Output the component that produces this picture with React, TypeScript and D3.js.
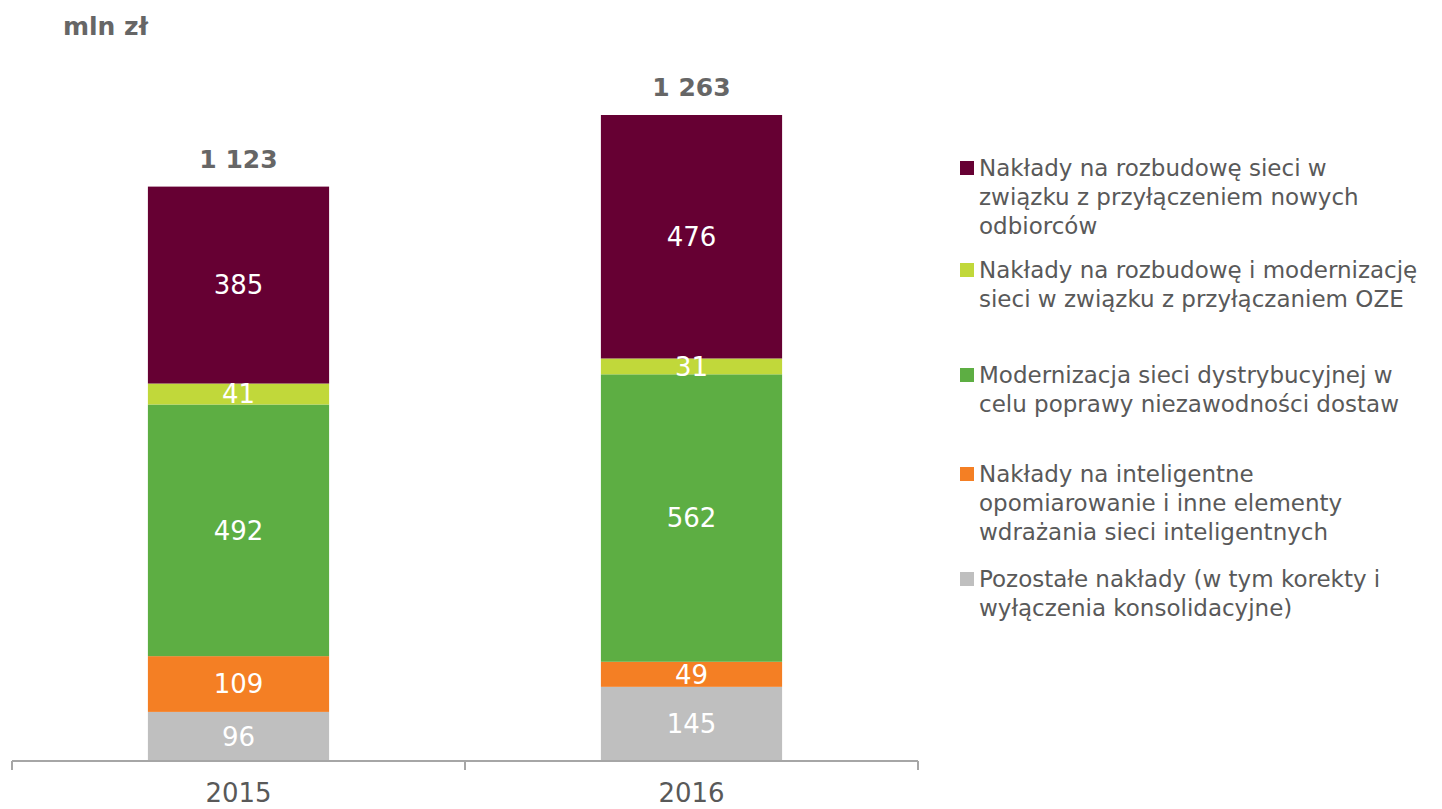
import { useRef, useEffect } from "react";
import * as d3 from "d3";

const years = ["2015", "2016"];
const seriesNames = [
  "Pozostałe nakłady (w tym korekty i wyłączenia konsolidacyjne)",
  "Nakłady na inteligentne opomiarowanie i inne elementy wdrażania sieci inteligentnych",
  "Modernizacja sieci dystrybucyjnej w celu poprawy niezawodności dostaw",
  "Nakłady na rozbudowę i modernizację sieci w związku z przyłączaniem OZE",
  "Nakłady na rozbudowę sieci w związku z przyłączeniem nowych odbiorców",
];
const values2015 = [96, 109, 492, 41, 385];
const values2016 = [145, 49, 562, 31, 476];
const totalLabels = ["1 123", "1 263"];
const colors = ["#bfbfbf", "#f47f24", "#5dae43", "#c1d83a", "#660033"];

// legend lines, top to bottom (wrapped as in the picture)
const legendLines = [
  ["Nakłady na rozbudowę sieci w", "związku z przyłączeniem nowych", "odbiorców"],
  ["Nakłady na rozbudowę i modernizację", "sieci w związku z przyłączaniem OZE"],
  ["Modernizacja sieci dystrybucyjnej w", "celu poprawy niezawodności dostaw"],
  ["Nakłady na inteligentne", "opomiarowanie i inne elementy", "wdrażania sieci inteligentnych"],
  ["Pozostałe nakłady (w tym korekty i", "wyłączenia konsolidacyjne)"],
];
const legendTops = [168, 270, 375, 474, 579];

const width = 1442;
const height = 809;
const baseY = 761;

const App = () => {
  const svgRef = useRef<SVGSVGElement>(null);

  useEffect(() => {
    const svg = d3.select(svgRef.current);
    svg.selectAll("*").remove();
    const font = "'DejaVu Sans', Verdana, sans-serif";

    const data = years.map((y, i) => {
      const vals = i === 0 ? values2015 : values2016;
      let acc = 0;
      return {
        year: y,
        total: totalLabels[i],
        segs: vals.map((v, k) => {
          const s = { v, k, y0: acc, y1: acc + v };
          acc += v;
          return s;
        }),
        sum: acc,
      };
    });

    const x = d3
      .scaleBand()
      .domain(years)
      .range([12, 918])
      .paddingInner(0.6)
      .paddingOuter(0.3);

    const y = d3
      .scaleLinear()
      .domain([0, d3.max(data, (d) => d.sum) as number])
      .range([baseY, 115]);

    const groups = svg
      .selectAll("g.bar")
      .data(data)
      .enter()
      .append("g")
      .attr("class", "bar");

    groups
      .selectAll("rect")
      .data((d) => d.segs.map((s) => ({ ...s, year: d.year })))
      .enter()
      .append("rect")
      .attr("x", (d) => x(d.year) as number)
      .attr("width", x.bandwidth())
      .attr("y", (d) => y(d.y1))
      .attr("height", (d) => y(d.y0) - y(d.y1))
      .attr("fill", (d) => colors[d.k]);

    groups
      .selectAll("text.val")
      .data((d) => d.segs.map((s) => ({ ...s, year: d.year })))
      .enter()
      .append("text")
      .attr("class", "val")
      .attr("x", (d) => (x(d.year) as number) + x.bandwidth() / 2)
      .attr("y", (d) => (y(d.y0) + y(d.y1)) / 2)
      .attr("dy", "0.36em")
      .attr("text-anchor", "middle")
      .attr("fill", "#ffffff")
      .style("font-family", font)
      .style("font-size", "26px")
      .text((d) => d.v);

    groups
      .append("text")
      .attr("x", (d) => (x(d.year) as number) + x.bandwidth() / 2)
      .attr("y", (d) => y(d.sum) - 28)
      .attr("dy", "0.36em")
      .attr("text-anchor", "middle")
      .attr("fill", "#666666")
      .style("font-family", font)
      .style("font-size", "25px")
      .style("font-weight", "bold")
      .text((d) => d.total);

    // axis
    const axis = svg.append("g");
    axis
      .append("line")
      .attr("x1", 12)
      .attr("x2", 918)
      .attr("y1", baseY)
      .attr("y2", baseY)
      .attr("stroke", "#a6a6a6")
      .attr("stroke-width", 2);
    const gap = (x.step() - x.bandwidth()) / 2;
    const ticks = years.map((yr) => (x(yr) as number) - gap).concat([918]);
    axis
      .selectAll("line.tick")
      .data(ticks)
      .enter()
      .append("line")
      .attr("x1", (d) => d)
      .attr("x2", (d) => d)
      .attr("y1", baseY)
      .attr("y2", baseY + 9)
      .attr("stroke", "#a6a6a6")
      .attr("stroke-width", 2);
    axis
      .selectAll("text")
      .data(years)
      .enter()
      .append("text")
      .attr("x", (d) => (x(d) as number) + x.bandwidth() / 2)
      .attr("y", 802)
      .attr("text-anchor", "middle")
      .attr("fill", "#595959")
      .style("font-family", font)
      .style("font-size", "26px")
      .text((d) => d);

    svg
      .append("text")
      .attr("x", 63)
      .attr("y", 35)
      .attr("fill", "#666666")
      .style("font-family", font)
      .style("font-size", "25px")
      .style("font-weight", "bold")
      .text("mln zł");

    // legend (top entry is the top of the stack)
    const legend = svg
      .selectAll("g.leg")
      .data(legendLines)
      .enter()
      .append("g")
      .attr("class", "leg")
      .attr("transform", (_, i) => `translate(960,${legendTops[i]})`);
    legend
      .append("rect")
      .attr("x", 0)
      .attr("y", -7)
      .attr("width", 14)
      .attr("height", 14)
      .attr("fill", (_, i) => colors[colors.length - 1 - i]);
    legend
      .selectAll("text")
      .data((d) => d)
      .enter()
      .append("text")
      .attr("x", 19)
      .attr("y", (_, j) => j * 29)
      .attr("dy", "0.36em")
      .attr("fill", "#595959")
      .style("font-family", font)
      .style("font-size", "23px")
      .text((d) => d);
  }, []);

  return (
    <svg
      ref={svgRef}
      width={width}
      height={height}
      style={{ position: "absolute", left: 0, top: 0, background: "#fff" }}
    ></svg>
  );
};

export default App;
